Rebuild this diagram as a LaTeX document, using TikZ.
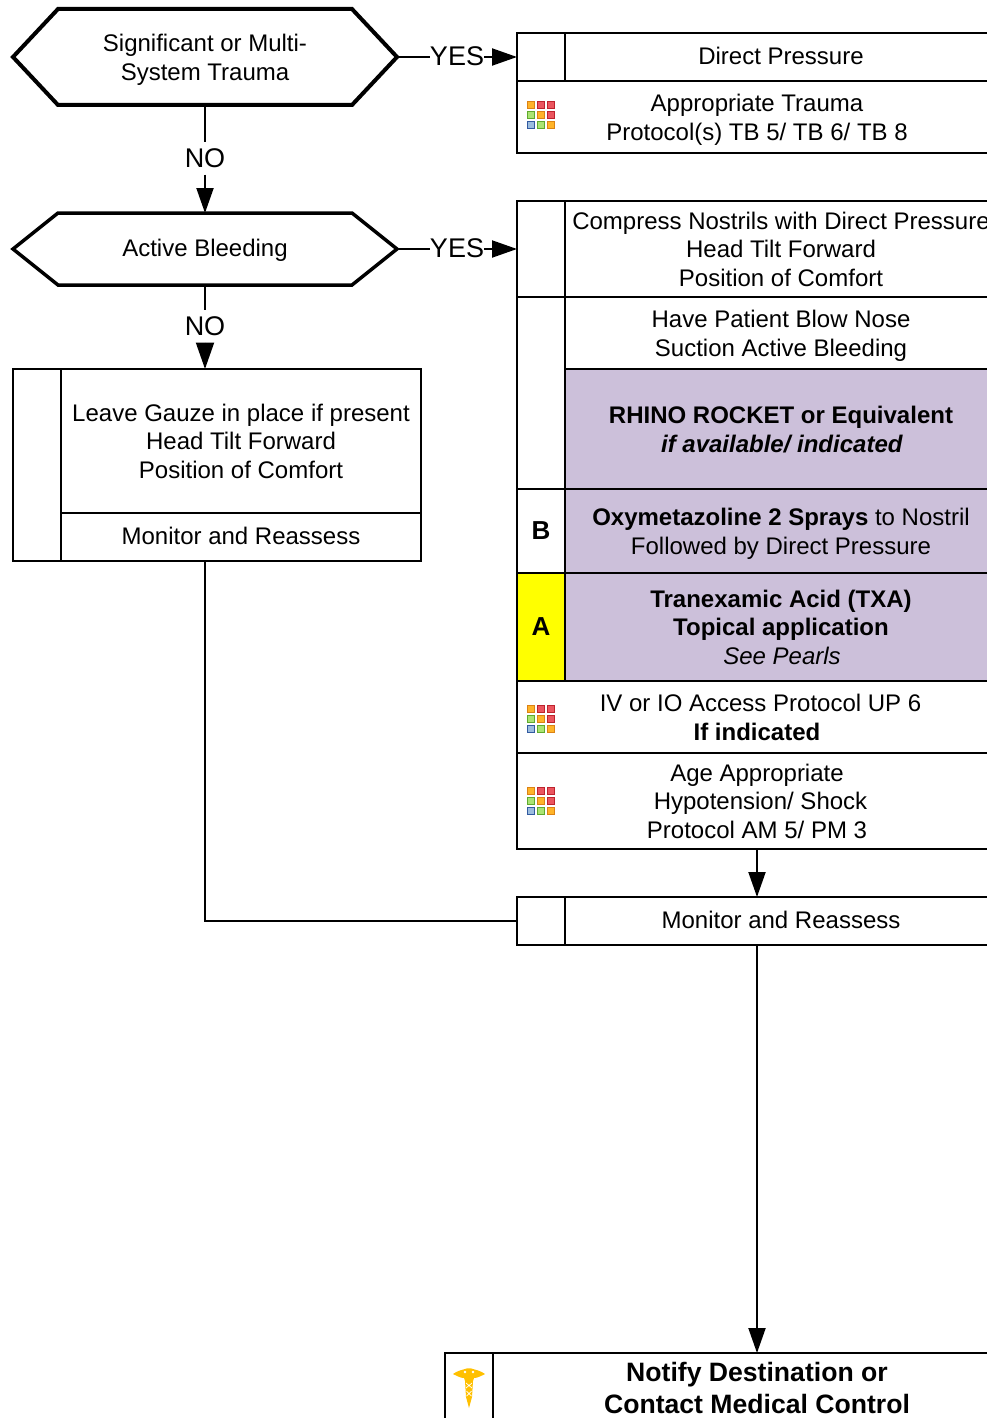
\documentclass[tikz,border=0pt]{standalone}
\usepackage{fontspec}
\setmainfont{Liberation Sans}
\usetikzlibrary{arrows.meta,calc}
\definecolor{lilac}{RGB}{204,192,218}
\definecolor{gold}{RGB}{255,192,0}
\definecolor{hiyellow}{RGB}{255,255,0}
\definecolor{iorange}{RGB}{255,180,40}
\definecolor{iorangeb}{RGB}{220,130,20}
\definecolor{ired}{RGB}{235,85,95}
\definecolor{iredb}{RGB}{190,35,45}
\definecolor{igreen}{RGB}{170,228,115}
\definecolor{igreenb}{RGB}{95,170,45}
\definecolor{iblue}{RGB}{155,188,222}
\definecolor{iblueb}{RGB}{50,90,160}
\newcommand{\captop}{\rule{0pt}{19.5pt}}
\newcommand{\capbot}{\rule[-5pt]{0pt}{5pt}}
\newcommand{\mtop}{\rule{0pt}{22.5pt}}
\tikzset{
  x=1pt,y=-1pt,
  cell/.style={draw=black,line width=2pt,anchor=north west,inner sep=0pt,outer sep=0pt,align=center,
    font=\fontsize{24}{28.7}\selectfont,text=black,execute at begin node=\captop,execute at end node=\capbot},
  hexbox/.style={inner sep=0pt,outer sep=0pt,align=center,font=\fontsize{24}{28.7}\selectfont,
    execute at begin node=\captop,execute at end node=\capbot},
  hexline/.style={draw=black,line width=#1,line join=miter},
  conn/.style={draw=black,line width=2pt},
  arr/.style={conn,-{Triangle[length=25pt,width=17pt,fill=black]}},
  arrb/.style={conn,-{Triangle[length=26.5pt,width=18pt,fill=black]}},
  yeslab/.style={fill=white,inner xsep=0pt,inner ysep=1pt,font=\fontsize{27}{30}\selectfont},
  nolab/.style={fill=white,inner sep=0pt,minimum height=32pt,font=\fontsize{27}{30}\selectfont},
  sq/.style={line width=1pt},
  gridicon/.pic={
    \foreach \c/\d [count=\i from 0] in {
      iorange/iorangeb,ired/iredb,ired/iredb,
      igreen/igreenb,iorange/iorangeb,ired/iredb,
      iblue/iblueb,igreen/igreenb,iorange/iorangeb}{
      \pgfmathtruncatemacro{\px}{mod(\i,3)*10}
      \pgfmathtruncatemacro{\py}{int(\i/3)*10}
      \filldraw[sq,fill=\c,draw=\d] (\px+.5,\py+.5) rectangle +(7,7);
    }
  },
  caduceus/.pic={
    \fill[gold] (-16,5) .. controls (-10,1) and (-7,1) .. (-4,0) .. controls (-2,-1) and (2,-1) .. (4,0)
      .. controls (7,1) and (10,1) .. (16,5) .. controls (11,7.5) and (8,9) .. (5,9)
      -- (4,12) -- (3,28) -- (0,39) -- (-3,28) -- (-4,12) -- (-5,9) .. controls (-8,9) and (-11,7.5) .. (-16,5) -- cycle;
    \fill[white] (-4,3) circle (1.3) (4,3) circle (1.3);
    \draw[white,line width=.7pt] (-3,14) -- (3,19) (3,14) -- (-3,19) (-2.5,22) -- (2.5,27) (2.5,22) -- (-2.5,27);
  }
}
\begin{document}
\begin{tikzpicture}
\path[use as bounding box] (0,0) rectangle (987,1418);
\clip (0,0) rectangle (987,1418);

% hexagons
\node[hexbox,minimum width=384pt,minimum height=96pt] (h1) at (205,57) {\mtop Significant or Multi-\\System Trauma};
\node[hexbox,minimum width=384pt,minimum height=72pt] (h2) at (205,249) {Active Bleeding};
\draw[hexline=4pt] (h1.west) -- ([xshift=45pt]h1.north west) -- ([xshift=-45pt]h1.north east) -- (h1.east)
  -- ([xshift=-45pt]h1.south east) -- ([xshift=45pt]h1.south west) -- cycle;
\draw[hexline=3.5pt] (h2.west) -- ([xshift=45pt]h2.north west) -- ([xshift=-45pt]h2.north east) -- (h2.east)
  -- ([xshift=-45pt]h2.south east) -- ([xshift=45pt]h2.south west) -- cycle;

% top right box
\node[cell,minimum width=48pt,minimum height=48pt] (a0) at (517,33) {};
\node[cell,minimum width=432pt,minimum height=48pt] (a1) at (565,33) {Direct Pressure};
\node[cell,minimum width=480pt,minimum height=72pt] (a2) at (517,81) {\mtop Appropriate Trauma\\Protocol(s) TB 5/ TB 6/ TB 8};

% second right box
\node[cell,minimum width=48pt,minimum height=96pt] (b0) at (517,201) {};
\node[cell,minimum width=432pt,minimum height=96pt] (b1) at (565,201) {\mtop Compress Nostrils with Direct Pressure\\Head Tilt Forward\\Position of Comfort};
\node[cell,minimum width=48pt,minimum height=192pt] (c0) at (517,297) {};
\node[cell,minimum width=432pt,minimum height=72pt] (c1) at (565,297) {\mtop Have Patient Blow Nose\\Suction Active Bleeding};
\node[cell,fill=lilac,minimum width=432pt,minimum height=120pt] (c2) at (565,369) {\mtop\textbf{RHINO ROCKET or Equivalent}\\\hspace*{2pt}\textbf{\textit{if available/ indicated}}};
\node[cell,minimum width=48pt,minimum height=84pt,font=\fontsize{26}{29}\selectfont\bfseries] (d0) at (517,489) {\rule{0pt}{21.5pt}B};
\node[cell,fill=lilac,minimum width=432pt,minimum height=84pt] (d1) at (565,489) {\mtop\textbf{Oxymetazoline 2 Sprays} to Nostril\\Followed by Direct Pressure};
\node[cell,fill=hiyellow,minimum width=48pt,minimum height=108pt,font=\fontsize{26}{29}\selectfont\bfseries] (e0) at (517,573) {\rule{0pt}{21.5pt}A};
\node[cell,fill=lilac,minimum width=432pt,minimum height=108pt] (e1) at (565,573) {\mtop\textbf{Tranexamic Acid (TXA)}\\\textbf{Topical application}\\\hspace*{2pt}\textit{See Pearls}};
\node[cell,minimum width=480pt,minimum height=72pt] (f1) at (517,681) {\mtop\hspace*{7pt}IV or IO Access Protocol UP 6\\\textbf{If indicated}};
\node[cell,minimum width=480pt,minimum height=96pt] (g1) at (517,753) {\mtop Age Appropriate\\\hspace*{7pt}Hypotension/ Shock\\Protocol AM 5/ PM 3};

% left box
\node[cell,minimum width=408pt,minimum height=192pt] (lbox) at (13,369) {};
\node[cell,minimum width=48pt,minimum height=192pt] (l0) at (13,369) {};
\node[cell,minimum width=360pt,minimum height=144pt] (l1) at (61,369) {\mtop Leave Gauze in place if present\\Head Tilt Forward\\Position of Comfort};
\node[cell,minimum width=360pt,minimum height=48pt] (l2) at (61,513) {Monitor and Reassess};

% monitor box
\node[cell,minimum width=480pt,minimum height=48pt] (mon) at (517,897) {};
\node[cell,minimum width=48pt,minimum height=48pt] (m0) at (517,897) {};
\node[cell,minimum width=432pt,minimum height=48pt] (m1) at (565,897) {Monitor and Reassess};

% notify box
\node[cell,minimum width=624pt,minimum height=72pt,font=\fontsize{26.6}{32}\selectfont\bfseries] (n1) at (445,1353) {\rule{0pt}{22.5pt}Notify Destination or\\Contact Medical Control};
\node[cell,minimum width=48pt,minimum height=72pt] (n0) at (445,1353) {};

% icons
\pic at (527,101) {gridicon};
\pic at (527,705) {gridicon};
\pic at (527,787) {gridicon};
\pic at (469,1369) {caduceus};

% connectors
\node[yeslab] (yes1) at ($(h1.east)!0.5!(a0.west)+(0,-1)$) {YES};
\node[yeslab] (yes2) at ($(h2.east)!0.5!(b0.west)+(0,-1)$) {YES};
\node[nolab] (no1) at (205,158.5) {NO};
\node[nolab] (no2) at (205,326.5) {NO};
\draw[conn] (h1.east) -- (h1.east -| yes1.west);
\draw[arr] (a0.west -| yes1.east) -- (a0.west);
\draw[conn] (h2.east) -- (h2.east -| yes2.west);
\draw[arr] (b0.west -| yes2.east) -- (b0.west);
\draw[conn] (h1.south) -- (no1.north);
\draw[arr] (no1.south) -- (h2.north);
\draw[conn] (h2.south) -- (no2.north);
\draw[arrb] (no2.south) -- (no2.south |- lbox.north);
\draw[conn] (h2.south |- lbox.south) -- (h2.south |- mon.west) -- (mon.west);
\draw[arr] (g1.south) -- (mon.north);
\draw[arr] (mon.south) -- (n1.north);
\end{tikzpicture}
\end{document}
